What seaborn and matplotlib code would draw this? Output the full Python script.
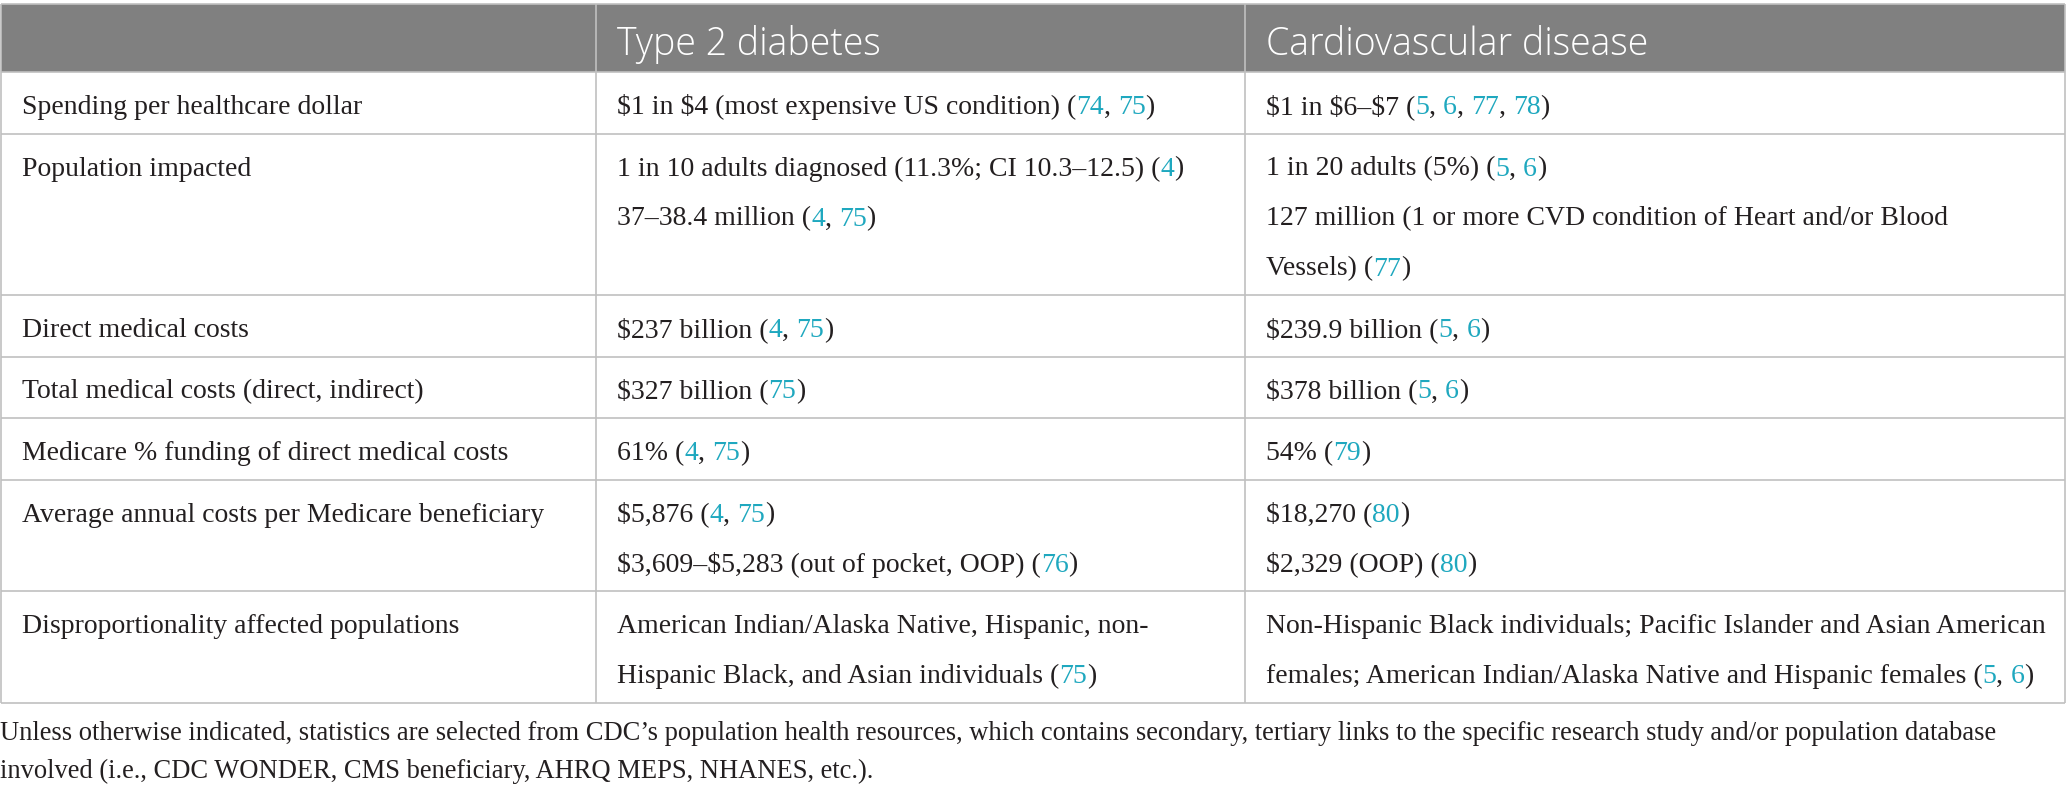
import re
import matplotlib
matplotlib.use("Agg")
import matplotlib.pyplot as plt
from matplotlib.patches import Rectangle
import seaborn as sns

# table content (citations in braces are drawn as teal links)
col_headers = ["", "Type 2 diabetes", "Cardiovascular disease"]

row_labels = [
    "Spending per healthcare dollar",
    "Population impacted",
    "Direct medical costs",
    "Total medical costs (direct, indirect)",
    "Medicare % funding of direct medical costs",
    "Average annual costs per Medicare beneficiary",
    "Disproportionality affected populations",
]

diabetes_cells = [
    ["$1 in $4 (most expensive US condition) ({74}, {75})"],
    ["1 in 10 adults diagnosed (11.3%; CI 10.3–12.5) ({4})",
     "37–38.4 million ({4}, {75})"],
    ["$237 billion ({4}, {75})"],
    ["$327 billion ({75})"],
    ["61% ({4}, {75})"],
    ["$5,876 ({4}, {75})",
     "$3,609–$5,283 (out of pocket, OOP) ({76})"],
    ["American Indian/Alaska Native, Hispanic, non-",
     "Hispanic Black, and Asian individuals ({75})"],
]

cvd_cells = [
    ["$1 in $6–$7 ({5}, {6}, {77}, {78})"],
    ["1 in 20 adults (5%) ({5}, {6})",
     "127 million (1 or more CVD condition of Heart and/or Blood",
     "Vessels) ({77})"],
    ["$239.9 billion ({5}, {6})"],
    ["$378 billion ({5}, {6})"],
    ["54% ({79})"],
    ["$18,270 ({80})", "$2,329 (OOP) ({80})"],
    ["Non-Hispanic Black individuals; Pacific Islander and Asian American",
     "females; American Indian/Alaska Native and Hispanic females ({5}, {6})"],
]

footnote_lines = [
    "Unless otherwise indicated, statistics are selected from CDC’s population health resources, "
    "which contains secondary, tertiary links to the specific research study and/or population database",
    "involved (i.e., CDC WONDER, CMS beneficiary, AHRQ MEPS, NHANES, etc.).",
]

# style
sns.set_theme(style="white")
plt.rcParams["text.parse_math"] = False

HEADER_BG = "#808080"
GRID = "#c0c0c0"
TEXT = "#231f20"
LINK = "#1fa8bf"
SERIF = ["Liberation Serif", "DejaVu Serif"]
SANS = ["Open Sans", "DejaVu Sans"]

W, H = 2067, 792
fig = plt.figure(figsize=(W / 100, H / 100), dpi=100)
ax = fig.add_axes([0, 0, 1, 1])
ax.set_xlim(0, W)
ax.set_ylim(H, 0)
ax.axis("off")
renderer = fig.canvas.get_renderer()

body_kw = dict(family=SERIF, fontsize=20)
foot_kw = dict(family=SERIF, fontsize=19.1)


def text_width(s, kw):
    if not s:
        return 0.0
    t = ax.text(0, 0, s + "|", **kw)
    w1 = t.get_window_extent(renderer).width
    t.remove()
    t = ax.text(0, 0, "|", **kw)
    w2 = t.get_window_extent(renderer).width
    t.remove()
    return w1 - w2


def draw_rich(x, y, s, kw):
    prefix = ""
    for part in re.split(r"(\{[^}]*\})", s):
        if not part:
            continue
        if part.startswith("{"):
            seg, color = part[1:-1], LINK
        else:
            seg, color = part, TEXT
        ax.text(x + text_width(prefix, kw), y, seg, color=color,
                ha="left", va="baseline", **kw)
        prefix += seg


# layout
top = 4
header_bottom = 72
col_x = [1, 596, 1245, 2065]
pad_x = 21
line_step = 50
row_pad = 11.5

n_lines = [max(len(a), len(b)) for a, b in zip(diabetes_cells, cvd_cells)]
row_edges = [header_bottom]
for n in n_lines:
    row_edges.append(row_edges[-1] + line_step * n + row_pad)

# header band
ax.add_patch(Rectangle((col_x[0], top), col_x[-1] - col_x[0],
                       header_bottom - top, color=HEADER_BG, lw=0))
for i, name in enumerate(col_headers):
    if name:
        ax.text(col_x[i] + pad_x, header_bottom - 17, name, color="white",
                family=SANS, fontsize=27, fontweight="light",
                ha="left", va="baseline")

# grid lines
lw = 1.2
ax.hlines([top] + row_edges, col_x[0], col_x[-1], colors=GRID, lw=lw)
ax.vlines([col_x[0], col_x[-1]], top, row_edges[-1], colors=GRID, lw=lw)
ax.vlines([col_x[1], col_x[2]], top, row_edges[-1], colors=GRID, lw=lw)

# body
for r, label in enumerate(row_labels):
    y0 = row_edges[r] + 42
    draw_rich(col_x[0] + pad_x, y0, label, body_kw)
    for c, cells in ((1, diabetes_cells), (2, cvd_cells)):
        for k, line in enumerate(cells[r]):
            draw_rich(col_x[c] + pad_x, y0 + k * line_step, line, body_kw)

# footnote
for k, line in enumerate(footnote_lines):
    draw_rich(0, row_edges[-1] + 38 + k * 37, line, foot_kw)

fig.savefig("out.png", dpi=100)
